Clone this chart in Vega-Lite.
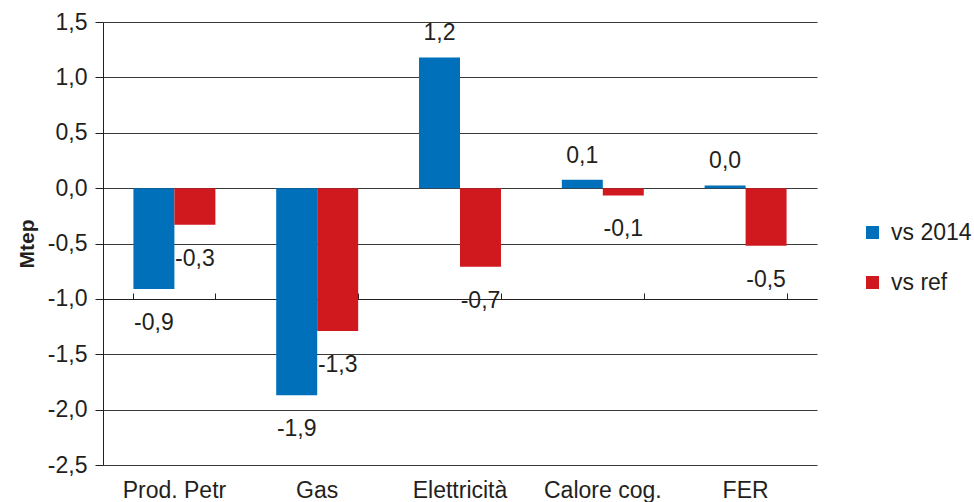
{
  "$schema": "https://vega.github.io/schema/vega-lite/v6.json",
  "width": 714,
  "height": 443,
  "autosize": {"type": "none"},
  "padding": {"left": 103, "top": 22, "right": 157, "bottom": 37},
  "background": "white",
  "config": {
    "locale": {"number": {"decimal": ",", "thousands": ".", "grouping": [3], "currency": ["", " €"], "minus": "-"}},
    "font": "Liberation Sans",
    "view": {"stroke": null}
  },
  "data": {
    "values": [
      {"cat": "Prod. Petr", "serie": "vs 2014", "v": -0.91},
      {"cat": "Prod. Petr", "serie": "vs ref", "v": -0.33},
      {"cat": "Gas", "serie": "vs 2014", "v": -1.87},
      {"cat": "Gas", "serie": "vs ref", "v": -1.29},
      {"cat": "Elettricità", "serie": "vs 2014", "v": 1.18},
      {"cat": "Elettricità", "serie": "vs ref", "v": -0.71},
      {"cat": "Calore cog.", "serie": "vs 2014", "v": 0.075},
      {"cat": "Calore cog.", "serie": "vs ref", "v": -0.066},
      {"cat": "FER", "serie": "vs 2014", "v": 0.024},
      {"cat": "FER", "serie": "vs ref", "v": -0.52}
    ]
  },
  "encoding": {
    "x": {
      "field": "cat", "type": "nominal", "sort": null, "axis": null,
      "scale": {"paddingInner": 0.426, "paddingOuter": 0.213}
    },
    "xOffset": {"field": "serie", "type": "nominal", "scale": {"paddingInner": 0, "paddingOuter": 0}}
  },
  "layer": [
    {
      "mark": {"type": "bar"},
      "encoding": {
        "x": {
          "field": "cat", "type": "nominal", "sort": null,
          "axis": {
            "title": null, "domain": false, "ticks": false, "grid": false,
            "labelAngle": 0, "labelFont": "Liberation Sans", "labelFontSize": 23,
            "labelColor": "#231F20", "labelPadding": 14
          }
        },
        "y": {
          "field": "v", "type": "quantitative",
          "scale": {"domain": [-2.5, 1.5], "nice": false, "zero": false},
          "axis": {
            "values": [-2.5, -2, -1.5, -1, -0.5, 0, 0.5, 1, 1.5],
            "format": ".1f",
            "title": "Mtep", "titleFont": "Liberation Sans", "titleFontSize": 21,
            "titleFontWeight": "bold", "titleColor": "#231F20", "titlePadding": 10,
            "labelFont": "Liberation Sans", "labelFontSize": 23, "labelColor": "#231F20",
            "labelPadding": 8, "tickSize": 8, "tickColor": "#231F20",
            "domainColor": "#231F20", "grid": true, "gridColor": "#3a3a3a", "gridOpacity": 1, "gridWidth": 1
          }
        },
        "color": {
          "field": "serie", "type": "nominal",
          "scale": {"domain": ["vs 2014", "vs ref"], "range": ["#0070BA", "#D0181F"]},
          "legend": {
            "title": null, "orient": "none", "legendX": 758, "legendY": 199,
            "symbolType": "square", "symbolSize": 169, "symbolStrokeWidth": 0,
            "labelFont": "Liberation Sans", "labelFontSize": 23, "labelColor": "#231F20",
            "rowPadding": 26, "labelOffset": 7
          }
        }
      }
    },
    {
      "mark": {"type": "rule", "color": "#231F20", "strokeWidth": 0},
      "encoding": {
        "x": {
          "field": "cat", "type": "nominal", "sort": null,
          "axis": {
            "title": null, "labels": false, "grid": false, "domain": true,
            "domainColor": "#231F20", "ticks": true, "tickBand": "extent",
            "tickSize": 6, "tickColor": "#231F20", "offset": -277
          }
        }
      }
    },
    {
      "transform": [{"filter": "datum.v >= 0"}],
      "mark": {"type": "text", "dy": -24, "baseline": "middle", "fontSize": 23, "font": "Liberation Sans", "color": "#231F20"},
      "encoding": {
        "y": {"field": "v", "type": "quantitative"},
        "text": {"field": "v", "type": "quantitative", "format": ".1f"}
      }
    },
    {
      "transform": [{"filter": "datum.v < 0"}],
      "mark": {"type": "text", "dy": 34, "baseline": "middle", "fontSize": 23, "font": "Liberation Sans", "color": "#231F20"},
      "encoding": {
        "y": {"field": "v", "type": "quantitative"},
        "text": {"field": "v", "type": "quantitative", "format": ".1f"}
      }
    }
  ],
  "resolve": {"axis": {"x": "independent"}}
}
